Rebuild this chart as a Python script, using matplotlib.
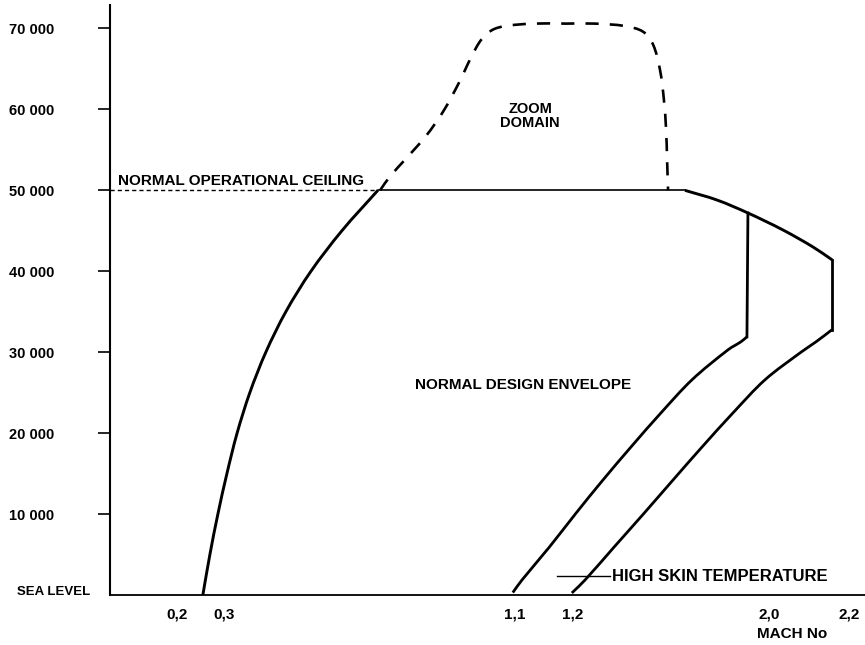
import numpy as np
import matplotlib
matplotlib.use("Agg")
import matplotlib.pyplot as plt
from matplotlib.scale import FuncScale
from matplotlib.path import Path
from matplotlib.patches import PathPatch

plt.rcParams['font.family'] = ['Liberation Sans', 'DejaVu Sans']

# ---------------- data (Mach number, altitude in ft) ----------------
mach_ticks = [0.2, 0.3, 1.1, 1.2, 2.0, 2.2]
mach_tick_labels = ["0,2", "0,3", "1,1", "1,2", "2,0", "2,2"]
alt_ticks = [10000, 20000, 30000, 40000, 50000, 60000, 70000]
alt_tick_labels = ["10 000", "20 000", "30 000", "40 000", "50 000", "60 000", "70 000"]

# low-speed boundary (sea level up to the ceiling)
low_mach = [0.255, 0.270, 0.287, 0.308, 0.336, 0.371, 0.415, 0.470, 0.539, 0.624, 0.723]
low_alt = [0, 5000, 10000, 15000, 20000, 25000, 30000, 35000, 40000, 45000, 50000]

# normal operational ceiling
ceiling_mach = [0.723, 1.657]
ceiling_alt = [50000, 50000]
ceiling_ext_mach = [0.0, 0.723]
ceiling_ext_alt = [50000, 50000]

# high-speed boundary above the ceiling
hs_mach = [1.657, 1.788, 1.914, 2.035, 2.110, 2.158]
hs_alt = [50000, 48800, 47200, 45100, 43000, 41400]

# outer (high skin temperature) limit
outer_vert_mach = [2.158, 2.158]
outer_vert_alt = [41400, 32800]
outer_mach = [2.158, 2.118, 2.080, 1.984, 1.853, 1.727, 1.608, 1.490, 1.367, 1.249, 1.198]
outer_alt = [32800, 31300, 30000, 26600, 22500, 18300, 14200, 10100, 5900, 1850, 250]

# inner limit
inner_mach = [1.094, 1.112, 1.159, 1.212, 1.322, 1.437, 1.559, 1.686, 1.833, 1.886, 1.910]
inner_alt = [300, 1850, 5900, 10100, 14200, 18300, 22500, 26600, 30300, 31300, 31900]
inner_vert_mach = [1.910, 1.914]
inner_vert_alt = [31900, 47200]

# zoom domain (dashed)
zoom_mach = [0.729, 0.756, 0.800, 0.855, 0.902, 0.946, 0.979, 1.007, 1.037, 1.073, 1.131, 1.188,
             1.290, 1.412, 1.486, 1.527, 1.555, 1.571, 1.580, 1.584, 1.588]
zoom_alt = [50000, 51700, 53900, 56700, 59700, 63300, 66400, 68600, 69800, 70300, 70600, 70600,
            70600, 70300, 69600, 68000, 64900, 61200, 57500, 53800, 50000]

# high skin temperature leader
skin_mach = [1.172, 1.351]
skin_alt = [2300, 2300]

# ---------------- non-uniform Mach axis (schematic) ----------------
_scale_m = [-1.0, 0.0, 0.2, 0.3, 1.1, 1.2, 2.0, 2.2, 4.0]
_scale_p = [-225, 110, 177, 224, 515, 573, 769, 849, 1569]


def fwd(m):
    return np.interp(m, _scale_m, _scale_p)


def inv(p):
    return np.interp(p, _scale_p, _scale_m)


_FT = 8.09 / 1000.0  # altitude to comparable units for smoothing


def smooth_path(mach, alt):
    """Chord-weighted cardinal spline through the points, built in scaled space."""
    pts = np.column_stack([fwd(np.asarray(mach, float)), np.asarray(alt, float) * _FT])
    ext = np.vstack([pts[0], pts, pts[-1]])
    verts = [pts[0]]
    codes = [Path.MOVETO]
    for i in range(len(pts) - 1):
        p0, p1, p2, p3 = ext[i], ext[i + 1], ext[i + 2], ext[i + 3]
        d01 = np.hypot(*(p1 - p0))
        d12 = np.hypot(*(p2 - p1))
        d23 = np.hypot(*(p3 - p2))
        c1 = p1 + (p2 - p0) * d12 / (3.0 * max(d01 + d12, 1e-9))
        c2 = p2 - (p3 - p1) * d12 / (3.0 * max(d12 + d23, 1e-9))
        verts += [c1, c2, p2]
        codes += [Path.CURVE4] * 3
    verts = np.array(verts)
    verts = np.column_stack([inv(verts[:, 0]), verts[:, 1] / _FT])
    return Path(verts, codes)


fig = plt.figure(figsize=(8.65, 6.45), dpi=100)
ax = fig.add_axes([110 / 865, 50 / 645, 755 / 865, 590 / 645])
ax.set_xscale(FuncScale(ax, (fwd, inv)))
ax.set_xlim(0, 2.24)
ax.set_ylim(0, 72900)

k = 'black'


def curve(mach, alt, **kw):
    ax.add_patch(PathPatch(smooth_path(mach, alt), fill=False, edgecolor=k,
                           transform=ax.transData, **kw))


curve(low_mach, low_alt, lw=2.1)
ax.plot(ceiling_mach, ceiling_alt, color=k, lw=1.2)
ax.plot(ceiling_ext_mach, ceiling_ext_alt, color=k, lw=1.0, linestyle=(0, (3, 2.2)))
curve(hs_mach, hs_alt, lw=2.1)
ax.plot(outer_vert_mach, outer_vert_alt, color=k, lw=2.0)
curve(outer_mach, outer_alt, lw=2.0)
curve(inner_mach, inner_alt, lw=2.0)
ax.plot(inner_vert_mach, inner_vert_alt, color=k, lw=2.0)
curve(zoom_mach, zoom_alt, lw=1.9, linestyle=(0, (5.0, 4.2)))
ax.plot(skin_mach, skin_alt, color=k, lw=1.0)

fs = 11
ax.text(0.024, 50650, "NORMAL OPERATIONAL CEILING", fontsize=fs, fontweight='bold',
        ha='left', va='baseline')
ax.text(1.126, 59200, "ZOOM\nDOMAIN", fontsize=10.5, fontweight='bold', ha='center',
        va='center', linespacing=1.0)
ax.text(1.114, 26000, "NORMAL DESIGN ENVELOPE", fontsize=fs, fontweight='bold',
        ha='center', va='center')
ax.text(1.36, 2250, "HIGH SKIN TEMPERATURE", fontsize=12, fontweight='bold',
        ha='left', va='center')

# axes styling
for s in ['top', 'right']:
    ax.spines[s].set_visible(False)
ax.spines['left'].set_linewidth(1.5)
ax.spines['bottom'].set_linewidth(1.3)

ax.set_xticks(mach_ticks)
ax.set_xticklabels(mach_tick_labels, fontsize=fs, fontweight='bold')
ax.tick_params(axis='x', length=0, pad=9)
ax.xaxis.set_minor_locator(matplotlib.ticker.NullLocator())

ax.set_yticks(alt_ticks)
ax.set_yticklabels(alt_tick_labels, fontsize=10.5, fontweight='bold')
ax.tick_params(axis='y', direction='out', length=9, width=1.2, pad=31)
ax.yaxis.set_minor_locator(matplotlib.ticker.NullLocator())

ax.annotate("SEA LEVEL", xy=(0, 0), xycoords=('axes fraction', 'data'), xytext=(-14, 2),
            textcoords='offset points', ha='right', va='center', fontsize=9.5,
            fontweight='bold')
ax.annotate("MACH No", xy=(2.058, 0), xycoords=('data', 'axes fraction'), xytext=(0, -28),
            textcoords='offset points', ha='center', va='center', fontsize=fs,
            fontweight='bold')

fig.savefig("out.png", dpi=100)
